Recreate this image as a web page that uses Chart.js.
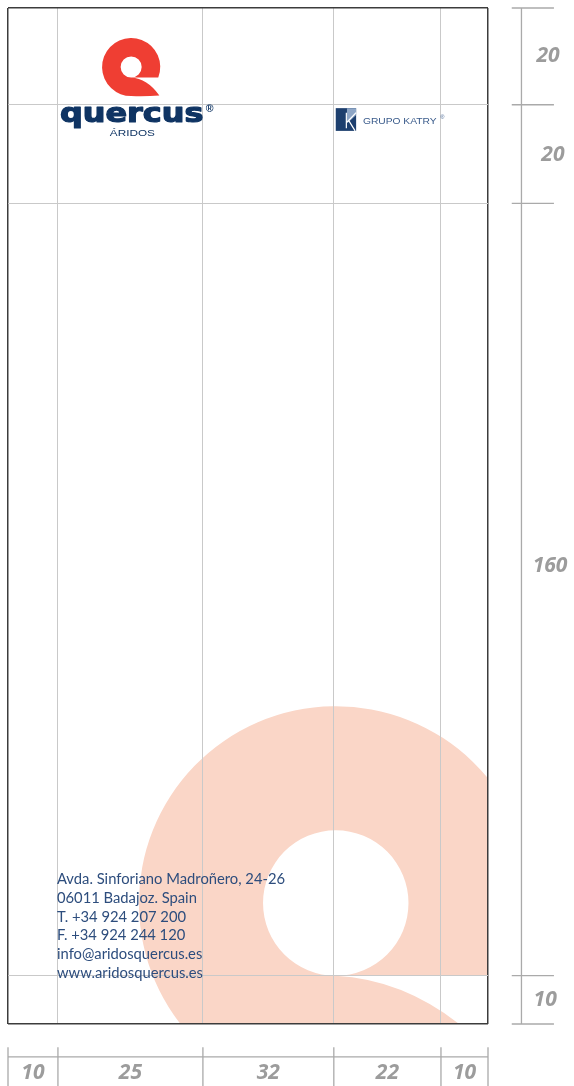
<!DOCTYPE html>
<html>
<head>
<meta charset="utf-8">
<script src="https://cdn.jsdelivr.net/npm/chart.js@4"></script>
<style>
  html, body { margin: 0; padding: 0; background: #fff; }
  #wrap { width: 574px; height: 1086px; }
</style>
</head>
<body>
<div id="wrap"><canvas id="sheet" width="574" height="1086"></canvas></div>
<script>
// cotas del pliego (mm) y posición de cada línea de retícula en el dibujo
const colLabels = ['10', '25', '32', '22', '10'];
const colEdges = [0, 10.3, 40.2, 67.2, 89.3, 99];
const rowLabels = ['20', '20', '160', '10'];
const rowEdges = [0, 20, 40.4, 200, 210];

const addressLines = [
  'Avda. Sinforiano Madroñero, 24-26',
  '06011 Badajoz. Spain',
  'T. +34 924 207 200',
  'F. +34 924 244 120',
  'info@aridosquercus.es',
  'www.aridosquercus.es'
];

const PAGE_W = colEdges[colEdges.length - 1];
const PAGE_H = rowEdges[rowEdges.length - 1];

// cotas exteriores
const RIGHT_X = 105.9;
const RIGHT_TICK = [103.9, 112.6];
const BOTTOM_Y = 216.8;
const BOTTOM_TICK = [214.8, 224];
const rowLabelPos = [[111.4, 9.9], [112.4, 30.4], [111.8, 115.3], [110.8, 205]];
const colLabelY = 220.1;

const NAVY = '#0f3463';
const INK = '#2d4d7d';
const GREY = '#9c9c9c';

const dimStyle = {
  showLine: true, pointRadius: 0, borderColor: '#aaaaaa', borderWidth: 1.3,
  clip: false, fill: false
};

const datasets = [
  { ...dimStyle, data: [{ x: RIGHT_X, y: 0 }, { x: RIGHT_X, y: PAGE_H }] },
  ...rowEdges.map(v => ({ ...dimStyle, data: [{ x: RIGHT_TICK[0], y: v }, { x: RIGHT_TICK[1], y: v }] })),
  { ...dimStyle, data: [{ x: 0, y: BOTTOM_Y }, { x: PAGE_W, y: BOTTOM_Y }] },
  ...colEdges.map(v => ({ ...dimStyle, data: [{ x: v, y: BOTTOM_TICK[0] }, { x: v, y: BOTTOM_TICK[1] }] }))
];

function drawQ(ctx, cx, cy, R, ri, color) {
  const rr = ri / R;
  const a0 = Math.asin(rr);
  const P = (u, v) => [cx + u * R, cy + v * R];
  ctx.beginPath();
  ctx.moveTo(...P(Math.cos(a0), rr));
  ctx.arc(cx, cy, R, a0, Math.PI / 2, true);
  ctx.quadraticCurveTo(...P(0.5, 1.02), ...P(0.97, 0.98));
  ctx.quadraticCurveTo(...P(0.55, rr + 0.03), ...P(0, rr));
  ctx.closePath();
  ctx.moveTo(cx + ri, cy);
  ctx.arc(cx, cy, ri, 0, Math.PI * 2);
  ctx.fillStyle = color;
  ctx.fill('evenodd');
}

function fitText(ctx, text, x, y, w, font, color, stroke) {
  ctx.save();
  ctx.font = font;
  const m = ctx.measureText(text).width;
  ctx.translate(x, y);
  ctx.scale(w / m, 1);
  ctx.fillStyle = color;
  ctx.textBaseline = 'alphabetic';
  ctx.textAlign = 'left';
  ctx.fillText(text, 0, 0);
  if (stroke) {
    ctx.strokeStyle = color;
    ctx.lineWidth = stroke;
    ctx.lineJoin = 'round';
    ctx.strokeText(text, 0, 0);
  }
  ctx.restore();
}

const sheetPlugin = {
  id: 'sheet',
  beforeDraw(chart) {
    const { ctx, chartArea: a } = chart;
    const xs = chart.scales.x, ys = chart.scales.y;
    const k = xs.getPixelForValue(1) - xs.getPixelForValue(0);
    ctx.save();
    ctx.beginPath();
    ctx.rect(a.left, a.top, a.right - a.left, a.bottom - a.top);
    ctx.clip();
    drawQ(ctx, xs.getPixelForValue(67.6), ys.getPixelForValue(185), 40.6 * k, 15 * k, '#fad6c7');
    ctx.restore();
  },
  afterDraw(chart) {
    const { ctx } = chart;
    const xs = chart.scales.x, ys = chart.scales.y;
    const px = v => xs.getPixelForValue(v);
    const py = v => ys.getPixelForValue(v);
    const k = px(1) - px(0);

    // logotipo quercus
    drawQ(ctx, px(25.4), py(12.2), 6.0 * k, 2.17 * k, '#ef3e33');
    fitText(ctx, 'quercus', px(10.7), py(23.6), 29.6 * k, 'bold ' + (5.5 * k) + 'px "DejaVu Sans"', NAVY, 1.2);
    fitText(ctx, '®', px(40.8), py(21.4), 1.6 * k, 'bold ' + (2.3 * k) + 'px "Liberation Sans"', NAVY);
    fitText(ctx, 'ÁRIDOS', px(21.0), py(26.5), 9.3 * k, (2.0 * k) + 'px "Liberation Sans"', NAVY);

    // grupo katry
    const kx0 = px(67.6), kx1 = px(71.8), ky0 = py(20.7), ky1 = py(25.4);
    const kw = kx1 - kx0, kh = ky1 - ky0;
    const K = (u, v) => [kx0 + u * kw, ky0 + v * kh];
    ctx.save();
    ctx.fillStyle = '#1d3f6e';
    ctx.fillRect(kx0, ky0, kw, kh);
    ctx.fillStyle = '#8ea6c6';
    ctx.beginPath();
    ctx.moveTo(...K(0.55, 0)); ctx.lineTo(...K(1, 0)); ctx.lineTo(...K(1, 0.3));
    ctx.lineTo(...K(0.62, 0.62)); ctx.lineTo(...K(0.55, 0.62));
    ctx.closePath();
    ctx.fill();
    ctx.strokeStyle = '#ffffff';
    ctx.lineWidth = 1.2;
    ctx.beginPath();
    ctx.moveTo(...K(0.52, 0.2)); ctx.lineTo(...K(0.52, 0.88));
    ctx.moveTo(...K(0.55, 0.62)); ctx.lineTo(...K(1, 0.2));
    ctx.moveTo(...K(0.64, 0.55)); ctx.lineTo(...K(0.95, 1));
    ctx.stroke();
    ctx.restore();
    fitText(ctx, 'GRUPO KATRY', px(73.2), py(24.0), 15.2 * k, (1.75 * k) + 'px "Liberation Sans"', '#3a5b8b');
    fitText(ctx, '®', px(89.2), py(23.0), 0.8 * k, (1.2 * k) + 'px "Liberation Sans"', '#3a5b8b');

    // dirección
    ctx.save();
    ctx.fillStyle = INK;
    ctx.font = (3.05 * k) + 'px Lato';
    ctx.textAlign = 'left';
    ctx.textBaseline = 'alphabetic';
    addressLines.forEach((t, i) => ctx.fillText(t, px(10.1), py(181.1 + i * 3.86)));
    ctx.restore();

    // cotas
    ctx.save();
    ctx.fillStyle = GREY;
    ctx.font = 'italic bold ' + (4.35 * k) + 'px "Open Sans"';
    ctx.textAlign = 'center';
    ctx.textBaseline = 'middle';
    rowLabels.forEach((t, i) => ctx.fillText(t, px(rowLabelPos[i][0]), py(rowLabelPos[i][1])));
    colLabels.forEach((t, i) => ctx.fillText(t, px((colEdges[i] + colEdges[i + 1]) / 2), py(colLabelY)));
    ctx.restore();
  }
};

const edgeOr = (edges, a, b) => c => edges.includes(c.tick.value) ? a : b;

new Chart(document.getElementById('sheet'), {
  type: 'scatter',
  data: { datasets },
  options: {
    responsive: false,
    animation: false,
    events: [],
    layout: { padding: { left: 8, top: 8, right: 86, bottom: 62 } },
    plugins: { legend: { display: false }, tooltip: { enabled: false } },
    scales: {
      x: {
        type: 'linear', min: 0, max: PAGE_W,
        afterBuildTicks: axis => { axis.ticks = colEdges.map(v => ({ value: v })); },
        ticks: { display: false },
        border: { display: false },
        grid: {
          drawTicks: false,
          color: edgeOr([0, PAGE_W], '#3c3c3c', '#c9c9c9'),
          lineWidth: edgeOr([0, PAGE_W], 1.5, 1)
        }
      },
      y: {
        type: 'linear', min: 0, max: PAGE_H, reverse: true,
        afterBuildTicks: axis => { axis.ticks = rowEdges.map(v => ({ value: v })); },
        ticks: { display: false },
        border: { display: false },
        grid: {
          drawTicks: false,
          color: edgeOr([0, PAGE_H], '#3c3c3c', '#c9c9c9'),
          lineWidth: edgeOr([0, PAGE_H], 1.5, 1)
        }
      }
    }
  },
  plugins: [sheetPlugin]
});
</script>
</body>
</html>
